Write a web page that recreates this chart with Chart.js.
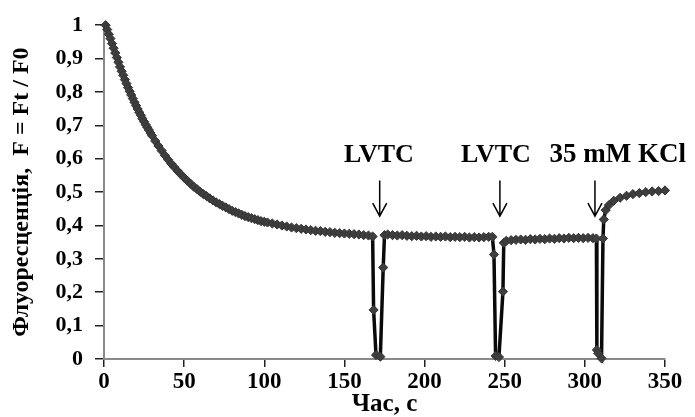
<!DOCTYPE html>
<html>
<head>
<meta charset="utf-8">
<script src="https://cdn.jsdelivr.net/npm/chart.js@4"></script>
<style>
  html, body { margin: 0; padding: 0; background: #fff; }
  #wrap { width: 695px; height: 417px; position: relative; }
</style>
</head>
<body>
<div id="wrap"><canvas id="chart"></canvas></div>
<script>
// Fluorescence trace F = Ft / F0 over time, with three stimulation events
const times = [
  1, 2, 3, 4, 5, 6, 7, 8, 9, 10, 11, 12, 13, 14, 15, 16, 17, 18, 19, 20,
  21, 22, 23, 24, 25, 26, 27, 28, 29, 30,
  32, 34, 36, 38, 40, 42, 44, 46, 48, 50, 52, 54, 56, 58, 60, 62, 64, 66, 68, 70,
  72, 74, 76, 78, 80, 82, 84, 86, 88, 90, 92, 94, 96, 98, 100, 102,
  105, 108, 111, 114, 117, 120, 123, 126, 129, 132, 135, 138, 141, 144, 147, 150,
  153, 156, 159, 162, 165, 167.6,
  168.2, 169.7, 172.4, 174.2, 175,
  177, 180, 183, 186, 189, 192, 195, 198, 201, 204, 207, 210, 213, 216, 219, 222,
  225, 228, 231, 234, 237, 240, 242.3,
  243.3, 244.3, 246.4, 248.9, 249.4,
  251, 254, 257, 260, 263, 266, 269, 272, 275, 278, 281, 284, 287, 290, 293, 296,
  299, 302, 305, 307.2,
  307.5, 308.3, 310.4, 311.3, 311.8,
  313, 315, 318, 322, 326, 330, 334, 338, 342, 346, 350
];
const fluor = [
  1.000, 0.987, 0.973, 0.960, 0.945, 0.931, 0.917, 0.903, 0.889, 0.875,
  0.862, 0.850, 0.837, 0.825, 0.813, 0.802, 0.791, 0.780, 0.769, 0.759,
  0.749, 0.739, 0.730, 0.720, 0.711, 0.702, 0.694, 0.686, 0.677, 0.669,
  0.653, 0.638, 0.624, 0.610, 0.597, 0.585, 0.574, 0.563, 0.553, 0.543,
  0.534, 0.525, 0.516, 0.509, 0.501, 0.494, 0.488, 0.481, 0.475, 0.469,
  0.464, 0.459, 0.454, 0.449, 0.444, 0.440, 0.436, 0.432, 0.428, 0.425,
  0.422, 0.419, 0.416, 0.413, 0.411, 0.409,
  0.406, 0.403, 0.400, 0.397, 0.394, 0.392, 0.390, 0.388, 0.386, 0.384,
  0.383, 0.381, 0.380, 0.378, 0.377, 0.376, 0.375, 0.374, 0.373, 0.371,
  0.370, 0.367,
  0.147, 0.012, 0.007, 0.274, 0.371,
  0.373, 0.371, 0.370, 0.371, 0.369, 0.368, 0.369, 0.367, 0.368, 0.366,
  0.367, 0.366, 0.367, 0.365, 0.366, 0.365, 0.366, 0.364, 0.365, 0.364,
  0.365, 0.366, 0.366,
  0.313, 0.009, 0.006, 0.202, 0.348,
  0.354, 0.356, 0.357, 0.358, 0.357, 0.359, 0.358, 0.360, 0.359, 0.361,
  0.360, 0.362, 0.361, 0.363, 0.362, 0.363, 0.362, 0.363, 0.362, 0.361,
  0.027, 0.017, 0.002, 0.361, 0.418,
  0.446, 0.461, 0.474, 0.483, 0.489, 0.494, 0.497, 0.500, 0.502, 0.503, 0.505
];

// stimulation events: arrow time, label and where the label sits
const eventTimes = [172, 247, 306.3];
const eventLabels = ['LVTC', 'LVTC', '35 mM KCl'];
const labelTimes = [171.5, 244.5, 320.5];

const xTitle = 'Час, с';
const yTitle = 'Флуоресценція,  F = Ft / F0';

const FONT = '"Liberation Serif", "Times New Roman", serif';

const eventsPlugin = {
  id: 'events',
  afterDatasetsDraw(chart) {
    const { ctx, scales: { x, y } } = chart;
    ctx.save();
    ctx.strokeStyle = '#000';
    ctx.fillStyle = '#000';
    ctx.lineWidth = 1.5;
    ctx.textAlign = 'center';
    ctx.textBaseline = 'middle';
    eventTimes.forEach((t, i) => {
      const px = x.getPixelForValue(t);
      const top = y.getPixelForValue(0.535);
      const tip = y.getPixelForValue(0.428);
      ctx.beginPath();
      ctx.moveTo(px, top);
      ctx.lineTo(px, tip);
      ctx.moveTo(px - 7, tip - 13);
      ctx.lineTo(px, tip);
      ctx.lineTo(px + 7, tip - 13);
      ctx.stroke();
      ctx.font = (i === 2 ? 'bold 27px ' : 'bold 26px ') + FONT;
      ctx.fillText(eventLabels[i], x.getPixelForValue(labelTimes[i]), y.getPixelForValue(0.61));
    });
    ctx.restore();
  }
};

const ctx = document.getElementById('chart').getContext('2d');
new Chart(ctx, {
  type: 'line',
  data: {
    datasets: [{
      data: times.map((t, i) => ({ x: t, y: fluor[i] })),
      borderColor: '#0a0a0a',
      borderWidth: 3.5,
      pointStyle: 'rectRot',
      pointRadius: 4.6,
      pointBackgroundColor: '#3e3e3e',
      pointBorderColor: '#333',
      pointBorderWidth: 1,
      tension: 0,
      clip: false
    }]
  },
  options: {
    responsive: true,
    maintainAspectRatio: false,
    animation: false,
    layout: { padding: { top: 25, right: 30, left: 0, bottom: 0 } },
    plugins: {
      legend: { display: false },
      tooltip: { enabled: false }
    },
    scales: {
      x: {
        type: 'linear',
        min: 0,
        max: 350,
        afterFit: (s) => { s.height = 58; },
        border: { color: '#8a8a8a', width: 2 },
        grid: { drawOnChartArea: false, color: '#222', lineWidth: 1.5, tickLength: 8 },
        ticks: {
          stepSize: 50,
          padding: 1,
          color: '#000',
          font: { family: FONT, size: 23, weight: 'bold' }
        },
        title: {
          display: true,
          text: xTitle,
          color: '#000',
          padding: { top: 0, bottom: 0 },
          font: { family: FONT, size: 25, weight: 'bold', lineHeight: 1 }
        }
      },
      y: {
        min: 0,
        max: 1,
        afterFit: (s) => { s.width = 104; },
        border: { color: '#8a8a8a', width: 2 },
        grid: { drawOnChartArea: false, color: '#222', lineWidth: 1.5, tickLength: 9 },
        ticks: {
          stepSize: 0.1,
          padding: 12,
          color: '#000',
          font: { family: FONT, size: 22, weight: 'bold' },
          callback: (v) => String(Math.round(v * 10) / 10).replace('.', ',')
        },
        title: {
          display: true,
          text: yTitle,
          color: '#000',
          padding: { top: 10, bottom: 0 },
          font: { family: FONT, size: 24, weight: 'bold', lineHeight: 1 }
        }
      }
    }
  },
  plugins: [eventsPlugin]
});
</script>
</body>
</html>
